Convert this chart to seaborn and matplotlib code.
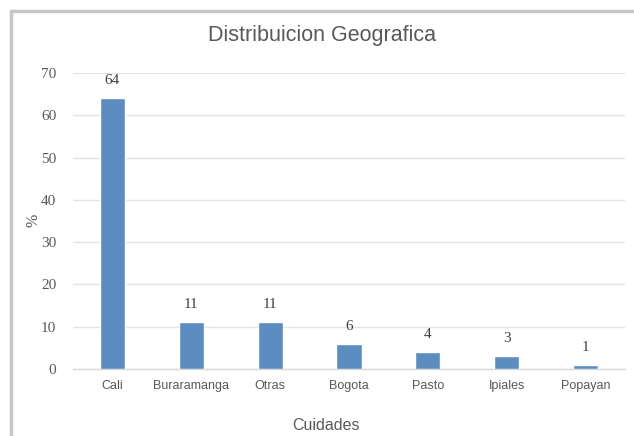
import matplotlib
matplotlib.use("Agg")
import matplotlib.pyplot as plt
import seaborn as sns
import pandas as pd
from matplotlib.lines import Line2D
from matplotlib import font_manager

ciudades = ["Cali", "Buraramanga", "Otras", "Bogota", "Pasto", "Ipiales", "Popayan"]
porcentajes = [64, 11, 11, 6, 4, 3, 1]
y_ticks = [0, 10, 20, 30, 40, 50, 60, 70]

names = {f.name for f in font_manager.fontManager.ttflist}
narrow = "Liberation Sans Narrow" if "Liberation Sans Narrow" in names else "Liberation Sans"
serif = "Liberation Serif"

sns.set_theme(style="white")
df = pd.DataFrame({"Ciudad": ciudades, "Pct": porcentajes})

fig = plt.figure(figsize=(6.34, 4.36), dpi=100)
ax = fig.add_axes([73/634, 1-369/436, (625-73)/634, (369-73)/436])

sns.barplot(data=df, x="Ciudad", y="Pct", color="#5B8DC0", width=0.32,
            saturation=1, ax=ax, zorder=3)

ax.set_xlim(-0.5, 6.5)
ax.set_ylim(0, 70)
ax.set_yticks(y_ticks)
ax.grid(axis="y", color="#E3E3E3", linewidth=1, zorder=0)
for s in ["top", "right", "left"]:
    ax.spines[s].set_visible(False)
ax.spines["bottom"].set_color("#D9D9D9")
ax.spines["bottom"].set_linewidth(1)
ax.tick_params(axis="both", length=0, colors="#595959")
ax.tick_params(axis="y", pad=12)
ax.tick_params(axis="x", pad=8)
for lab in ax.get_yticklabels():
    lab.set_fontfamily(serif)
    lab.set_fontsize(11)
for lab in ax.get_xticklabels():
    lab.set_fontfamily(narrow)
    lab.set_fontsize(9)

for i, v in enumerate(porcentajes):
    ax.annotate(str(v), (i, v), xytext=(0, 8), textcoords="offset points",
                ha="center", va="bottom", fontsize=11, family=serif, color="#404040")

ax.set_xlabel("Cuidades", family=narrow, fontsize=11.5, color="#595959")
ax.xaxis.set_label_coords((326-73)/552, -(418-369)/296)
ax.set_ylabel("%", family=serif, fontsize=11.5, color="#595959")
ax.yaxis.set_label_coords(-(73-42)/552, (369-220)/296)

fig.text(322/634, 1-35/436, "Distribuicion Geografica", ha="center", va="center",
         family=narrow, fontsize=15.5, color="#595959")

# outer frame (left and top)
fig.add_artist(Line2D([11/634, 11/634], [0, 1-11/436], transform=fig.transFigure,
                      color="#C6C6C6", linewidth=2.5))
fig.add_artist(Line2D([11/634, 1], [1-11/436, 1-11/436], transform=fig.transFigure,
                      color="#C6C6C6", linewidth=2.5))

fig.savefig("out.png", dpi=100)
